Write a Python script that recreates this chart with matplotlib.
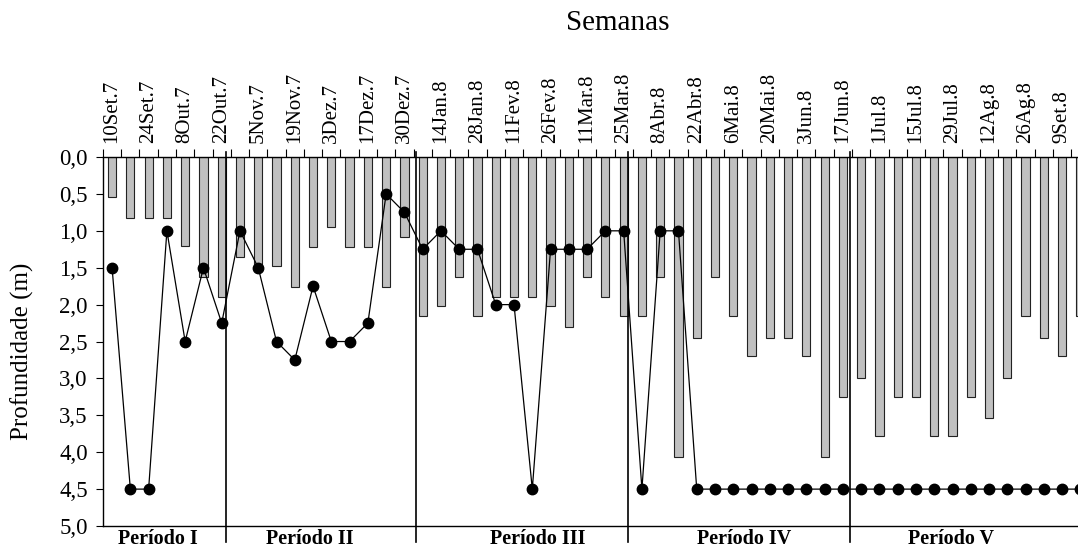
import matplotlib
matplotlib.use('Agg')
import matplotlib.pyplot as plt
import numpy as np
from matplotlib.ticker import FuncFormatter

plt.rcParams['font.family'] = ['Liberation Serif', 'DejaVu Serif']

# rótulos das semanas (um a cada duas semanas)
semanas = ['10Set.7', '24Set.7', '8Out.7', '22Out.7', '5Nov.7', '19Nov.7', '3Dez.7',
           '17Dez.7', '30Dez.7', '14Jan.8', '28Jan.8', '11Fev.8', '26Fev.8', '11Mar.8',
           '25Mar.8', '8Abr.8', '22Abr.8', '6Mai.8', '20Mai.8', '3Jun.8', '17Jun.8',
           '1Jul.8', '15Jul.8', '29Jul.8', '12Ag.8', '26Ag.8', '9Set.8']

# barras (m)
barras = [0.54, 0.83, 0.83, 0.83, 1.20, 1.63, 1.90, 1.36, 1.45, 1.48,
          1.76, 1.22, 0.95, 1.22, 1.22, 1.76, 1.09, 2.16, 2.02, 1.62,
          2.16, 1.90, 1.90, 1.90, 2.02, 2.30, 1.62, 1.90, 2.16, 2.16,
          1.62, 4.06, 2.45, 1.62, 2.16, 2.70, 2.45, 2.45, 2.70, 4.06,
          3.25, 2.99, 3.78, 3.25, 3.25, 3.78, 3.78, 3.25, 3.53, 2.99,
          2.16, 2.45, 2.70, 2.16]

# pontos (m)
pontos = [1.5, 4.5, 4.5, 1.0, 2.5, 1.5, 2.25, 1.0, 1.5, 2.5,
          2.75, 1.75, 2.5, 2.5, 2.25, 0.5, 0.75, 1.25, 1.0, 1.25,
          1.25, 2.0, 2.0, 4.5, 1.25, 1.25, 1.25, 1.0, 1.0, 4.5,
          1.0, 1.0] + [4.5] * 22

periodos = ['Período I', 'Período II', 'Período III', 'Período IV', 'Período V']
periodo_x = [2.5, 10.8, 23.3, 34.6, 45.9]
divisoes = [6.24, 16.64, 28.24, 40.4]

x = np.arange(len(barras))

fig = plt.figure(figsize=(10.78, 5.5), dpi=100)
ax = fig.add_axes([0.0955, 0.0436, 0.9152, 0.6709])

ax.bar(x, barras, width=0.45, color='#c0c0c0', edgecolor='#222222', linewidth=0.8, zorder=2)
ax.plot(x, pontos, color='black', linewidth=0.9, marker='o', markersize=7.5, zorder=3,
        clip_on=False)

ax.set_xlim(-0.5, len(barras) - 0.5)
ax.set_ylim(5, 0)
ax.set_yticks(np.arange(0, 5.01, 0.5))
ax.yaxis.set_major_formatter(FuncFormatter(lambda v, p: f'{v:.1f}'.replace('.', ',')))
ax.tick_params(axis='y', direction='out', length=5, width=0.8, labelsize=16.5, pad=6)

ax.xaxis.tick_top()
ax.set_xticks(np.arange(-0.5, len(barras), 1))
ax.set_xticklabels([])
ax.set_xticks(np.arange(0, 2 * len(semanas), 2), minor=True)
ax.set_xticklabels(semanas, minor=True, rotation=90)
ax.tick_params(axis='x', which='major', direction='out', length=5.5, width=0.8)
ax.tick_params(axis='x', which='minor', length=0, pad=10, labelsize=15)

ax.spines['right'].set_visible(False)
for s in ['top', 'bottom', 'left']:
    ax.spines[s].set_linewidth(1.0)

tr = ax.get_xaxis_transform()
for d in divisoes:
    ax.plot([d, d], [1.014, -0.043], color='black', linewidth=1.2, transform=tr,
            clip_on=False, zorder=4)
for nome, px in zip(periodos, periodo_x):
    ax.text(px, -0.034, nome, transform=tr, ha='center', va='center',
            fontsize=14.5, fontweight='bold')

fig.text(618 / 1078, 1 - 23 / 550, 'Semanas', ha='center', va='center', fontsize=21)
fig.text(22 / 1078, 1 - 351 / 550, 'Profundidade (m)', ha='center', va='center',
         rotation=90, fontsize=18)

fig.savefig('out.png', dpi=100)
